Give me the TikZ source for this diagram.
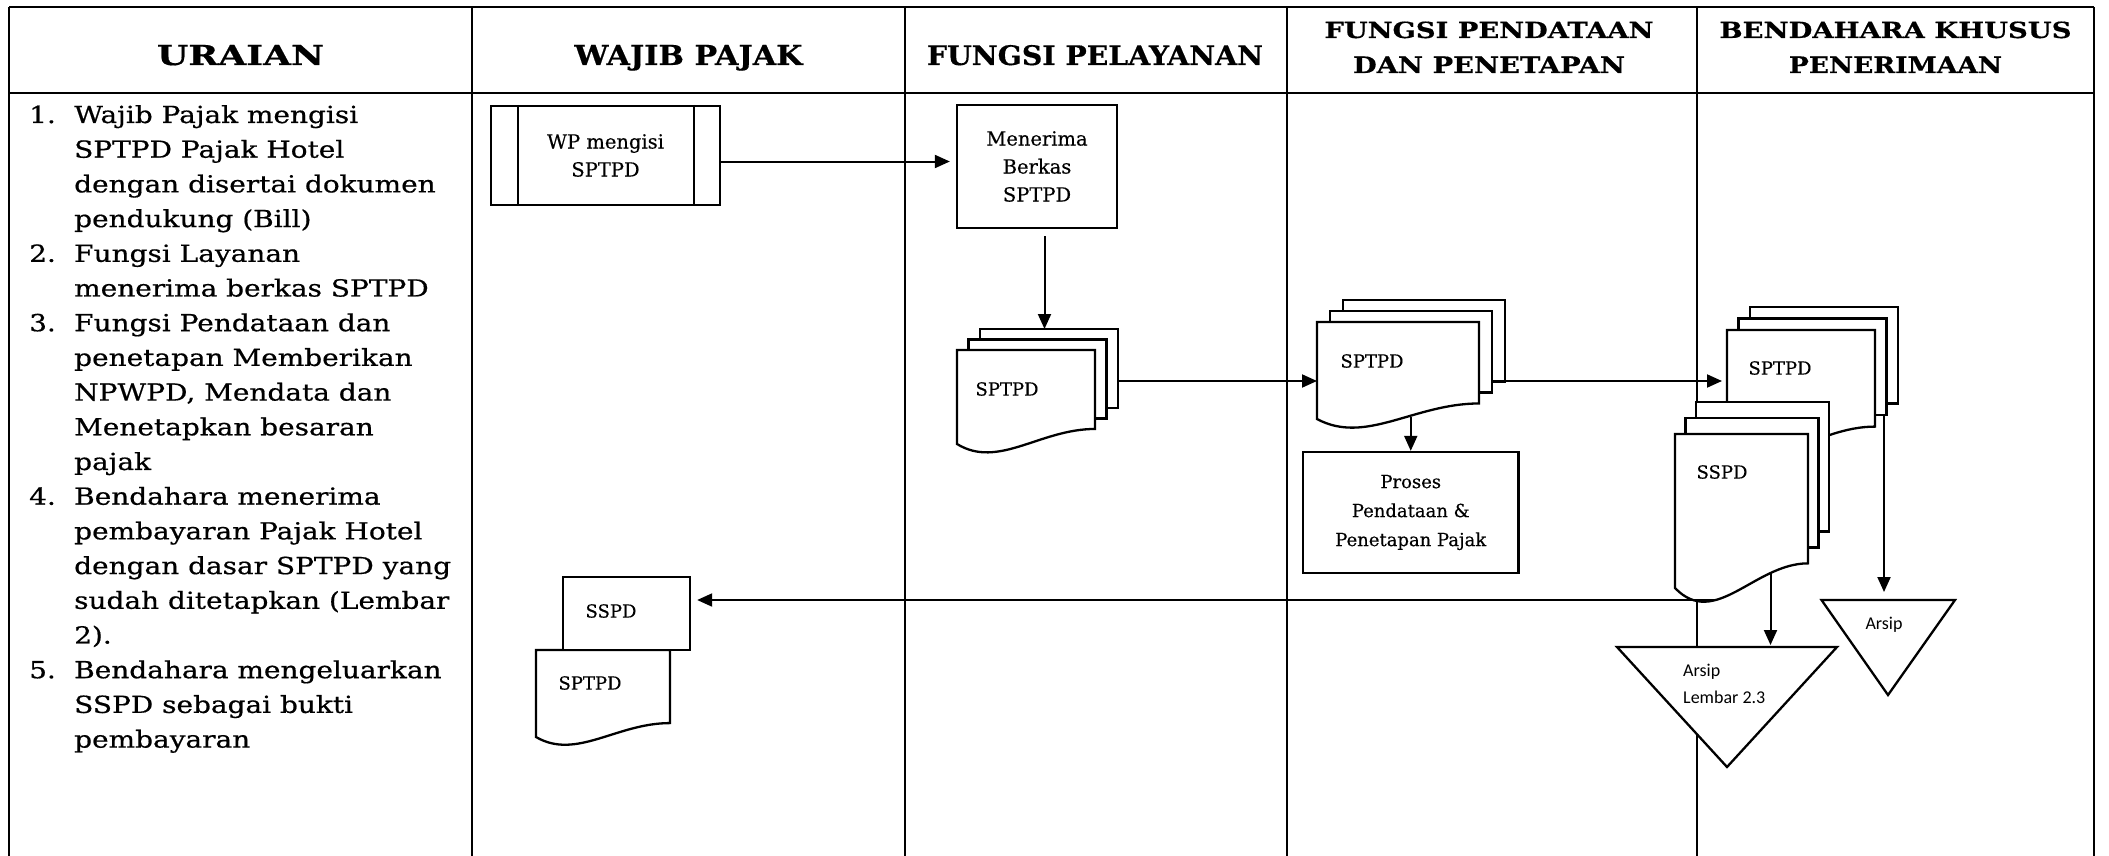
\documentclass[tikz,border=0pt]{standalone}
\usepackage{fontspec}
\setmainfont{DejaVu Serif}[FakeStretch=1.19, FakeBold=0.6]
\newfontfamily\boxfont{DejaVu Serif}[FakeBold=0.4]
\newfontfamily\headfont{DejaVu Serif Bold}[FakeBold=0.5]
\newfontfamily\arsipfont{Carlito}
\usetikzlibrary{arrows.meta}

% document sheet with wavy bottom: x y (top-left), w, h (height of left edge)
\newcommand\docsheet[4]{%
  \draw[shp] (#1,#2) -- ({#1+#3},#2) -- ({#1+#3},{#2+0.84*#4})
    .. controls ({#1+0.6*#3},{#2+0.84*#4}) and ({#1+0.3*#3},{#2+1.27*#4}) .. (#1,{#2+#4}) -- cycle;}
% stack of three sheets
\newcommand\multidoc[6]{%
  \draw[shp] ({#1+2*#5},{#2-2*#6}) rectangle ++(#3,{0.84*#4});
  \draw[shp] ({#1+#5},{#2-#6}) rectangle ++(#3,{0.84*#4});
  \docsheet{#1}{#2}{#3}{#4}}
% header line of given width and cap height
\newcommand\hd[3]{\resizebox{#1pt}{#2pt}{\headfont #3}}

\begin{document}
\begin{tikzpicture}[x=1pt,y=-1pt,
  grid/.style={line width=1.6pt},
  shp/.style={line width=2.3pt, fill=white},
  con/.style={line width=2pt, -{Triangle[length=15pt,width=13pt]}},
  hdr/.style={anchor=base, inner sep=0pt},
  box/.style={shp, draw, align=center, inner sep=0pt, font=\boxfont\fontsize{19.5}{28}\selectfont},
  lbl/.style={inner sep=0pt, font=\boxfont\fontsize{18}{22}\selectfont},
  arsip/.style={inner sep=0pt, font=\arsipfont\fontsize{18}{27}\selectfont, align=left},
]
\useasboundingbox[fill=white] (0,0) rectangle (2109,856);

% ---- table ----
\draw[grid] (9,7) -- (2094,7);
\draw[grid] (9,93) -- (2094,93);
\foreach \x in {9,472,905,1287,1697,2094} \draw[grid] (\x,7) -- (\x,856);

\node[hdr] (h1) at (240.5,65) {\hd{167}{20}{URAIAN}};
\node[hdr] (h2) at (688.5,65) {\hd{228}{20}{WAJIB PAJAK}};
\node[hdr] (h3) at (1095,65) {\hd{336}{20}{FUNGSI PELAYANAN}};
\node[hdr] (h4a) at (1489,38) {\hd{329}{16.5}{FUNGSI PENDATAAN}};
\node[hdr] (h4b) at (1489,73) {\hd{272}{16.5}{DAN PENETAPAN}};
\node[hdr] (h5a) at (1895.5,38) {\hd{352}{16.5}{BENDAHARA KHUSUS}};
\node[hdr] (h5b) at (1895.5,73) {\hd{213}{16.5}{PENERIMAAN}};

\node[anchor=base west, inner sep=0pt, font=\fontsize{23.5}{34.7}\selectfont] (uraian) at (29,123) {%
\begin{tabular}[t]{@{}p{45pt}@{}l@{}}
1. & Wajib Pajak mengisi\\
   & SPTPD Pajak Hotel\\
   & dengan disertai dokumen\\
   & pendukung (Bill)\\
2. & Fungsi Layanan\\
   & menerima berkas SPTPD\\
3. & Fungsi Pendataan dan\\
   & penetapan Memberikan\\
   & NPWPD, Mendata dan\\
   & Menetapkan besaran\\
   & pajak\\
4. & Bendahara menerima\\
   & pembayaran Pajak Hotel\\
   & dengan dasar SPTPD yang\\
   & sudah ditetapkan (Lembar\\
   & 2).\\
5. & Bendahara mengeluarkan\\
   & SSPD sebagai bukti\\
   & pembayaran
\end{tabular}};

% ---- Wajib Pajak ----
\node[box, minimum width=229pt, minimum height=99pt] (wp) at (605.5,155.5) {WP mengisi\\SPTPD};
\draw[shp] ([xshift=28pt]wp.north west) -- ([xshift=28pt]wp.south west);
\draw[shp] ([xshift=-27pt]wp.north east) -- ([xshift=-27pt]wp.south east);

\docsheet{536}{650}{134}{87}
\node[lbl] (wpsptpd) at (590,683) {SPTPD};
\node[shp, draw, minimum width=127pt, minimum height=73pt, inner sep=0pt] (sspdwp) at (626.5,613.5) {};
\node[lbl] (wpsspd) at (611,611) {SSPD};

% ---- Fungsi Pelayanan ----
\node[box, minimum width=160pt, minimum height=123pt] (terima) at (1037,166.5) {Menerima\\Berkas\\SPTPD};
\coordinate (a1) at ([yshift=-6pt]wp.east);
\draw[con, shorten >=6pt] (a1) -- (a1 -| terima.west);

\multidoc{957}{350}{138}{94}{11.5}{10.5}
\node[lbl] (ctext) at (1007,389) {SPTPD};
\coordinate (C3n) at (1044.5,329);
\coordinate (C3e) at (1118.5,381);
\draw[con] ([xshift=7.5pt,yshift=-7pt]terima.south) -- (C3n);

% ---- Fungsi Pendataan ----
\multidoc{1317}{322}{162}{97}{13}{11}
\node[lbl] (dtext) at (1372,361) {SPTPD};
\coordinate (Dw) at (1317,381);
\draw[con] (C3e) -- (Dw);

\node[box, minimum width=215.5pt, minimum height=121pt, font=\boxfont\fontsize{18}{29}\selectfont] (proses) at (1410.75,512.5) {Proses\\Pendataan \&\\Penetapan Pajak};
\coordinate (Dbot) at (1410.75,417);
\draw[con] (Dbot) -- (proses.north);

% ---- Bendahara ----
\multidoc{1727}{330}{148}{115}{11.5}{11.5}
\node[lbl] (ftext) at (1780,368) {SPTPD};
\coordinate (D3e) at (1505,381);
\coordinate (Fw) at (1727,381);
\draw[con, shorten >=5pt] (D3e) -- (Fw);

\multidoc{1675}{434}{133}{154}{10.5}{16}
\node[lbl] (gtext) at (1722,472) {SSPD};

% archive triangles
\draw[shp] (1617,647) -- (1837,647) -- (1727,767) -- cycle;
\coordinate (Htop) at (1727,647);
\node[arsip, anchor=west] (htext) at (1683,683.5) {Arsip\\Lembar 2.3};
\draw[shp] (1821.5,600) -- (1955,600) -- (1888,695) -- cycle;
\coordinate (Itop) at (1888,600);
\node[arsip] (itext) at (1884,625) {Arsip};

\coordinate (F2b) at (1884,415);
\draw[con, shorten >=8pt] (F2b) -- (F2b |- Itop);
\coordinate (Gb) at (1770.5,573);
\draw[con, shorten >=2pt] (Gb) -- (Gb |- Htop);

\coordinate (Gl) at (1716,600);
\draw[con, shorten >=6pt] (Gl) -- (Gl -| sspdwp.east);
\end{tikzpicture}
\end{document}
